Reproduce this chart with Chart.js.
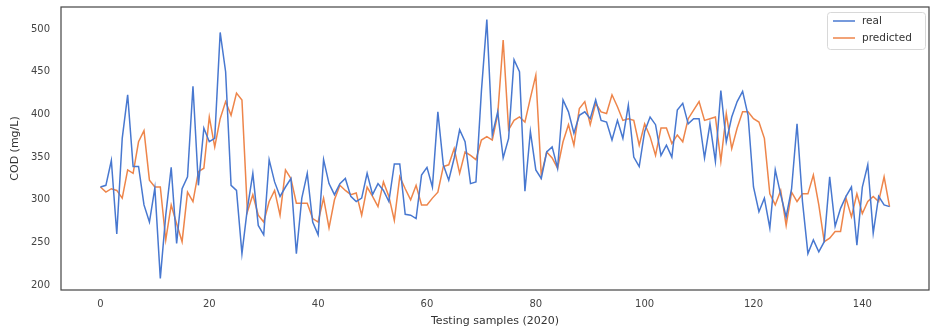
<!DOCTYPE html>
<html>
<head>
<meta charset="utf-8">
<script src="https://cdn.jsdelivr.net/npm/chart.js@4.4.1/dist/chart.umd.min.js"></script>
<style>
  body { margin: 0; background: #fff; }
  canvas { display: block; }
</style>
</head>
<body>
<canvas id="codChart" width="931" height="332"></canvas>
<script>
// COD values for the 2020 test set, one per sample
const real = [315, 317, 346, 260, 372, 423, 339, 339, 294, 274,
  314, 208, 282, 338, 249, 313, 327, 433, 317, 384,
  368, 372, 496, 450, 317, 311, 237, 290, 331, 270,
  259, 347, 321, 304, 315, 325, 237, 302, 331, 274,
  259, 347, 319, 306, 319, 325, 304, 298, 302, 331,
  306, 319, 311, 298, 342, 342, 283, 282, 278, 329,
  338, 315, 403, 341, 323, 349, 382, 368, 319, 321,
  427, 511, 376, 403, 349, 372, 464, 450, 310, 380,
  335, 325, 356, 362, 337, 417, 403, 378, 399, 403,
  395, 417, 393, 391, 370, 393, 372, 411, 350, 339,
  380, 397, 388, 352, 364, 350, 405, 413, 389, 395,
  395, 349, 389, 345, 428, 368, 397, 415, 427, 399,
  315, 286, 302, 267, 335, 306, 280, 313, 389, 298,
  237, 253, 239, 251, 327, 269, 290, 304, 315, 247,
  315, 341, 261, 304, 294, 292];

const predicted = [315, 309, 313, 311, 302, 335, 331, 368, 381, 323,
  315, 315, 253, 294, 272, 251, 309, 298, 333, 337,
  397, 362, 395, 415, 399, 425, 417, 286, 306, 282,
  274, 298, 311, 282, 335, 325, 296, 296, 296, 278,
  274, 302, 267, 300, 317, 311, 306, 308, 282, 315,
  304, 292, 321, 304, 276, 327, 313, 300, 317, 294,
  294, 302, 309, 339, 341, 360, 331, 356, 352, 347,
  370, 374, 370, 400, 487, 382, 393, 397, 391, 419,
  446, 329, 356, 349, 337, 368, 388, 364, 407, 415,
  388, 413, 403, 401, 423, 409, 393, 395, 393, 364,
  389, 374, 352, 384, 384, 366, 376, 368, 395, 405,
  415, 393, 395, 397, 345, 401, 360, 384, 403, 403,
  395, 391, 372, 307, 294, 311, 270, 309, 298, 307,
  307, 329, 294, 251, 255, 263, 263, 302, 280, 307,
  284, 298, 304, 298, 327, 292];

const xTicks = [0, 20, 40, 60, 80, 100, 120, 140];
const yTicks = [200, 250, 300, 350, 400, 450, 500];

const BLUE = '#4878d0';
const ORANGE = '#ee854a';
const TICK_FONT = { family: 'DejaVu Sans', size: 10 };

function toPoints(values) {
  return values.map((v, i) => ({ x: i, y: v }));
}

// frame around the plot area plus the legend box in the upper right
const frameAndLegend = {
  id: 'frameAndLegend',
  afterDatasetsDraw(chart) {
    const ctx = chart.ctx;
    const a = chart.chartArea;
    ctx.save();
    ctx.strokeStyle = '#444';
    ctx.lineWidth = 1.2;
    ctx.strokeRect(a.left, a.top, a.right - a.left, a.bottom - a.top);

    const bx = 827, by = 12, bw = 98, bh = 37;
    ctx.fillStyle = 'rgba(255,255,255,0.85)';
    ctx.strokeStyle = '#d8d8d8';
    ctx.lineWidth = 1;
    ctx.beginPath();
    ctx.roundRect(bx + 0.5, by + 0.5, bw, bh, 3);
    ctx.fill();
    ctx.stroke();

    ctx.font = '10.5px "DejaVu Sans"';
    ctx.textBaseline = 'middle';
    chart.data.datasets.forEach((ds, k) => {
      const y = by + 9 + k * 17;
      ctx.strokeStyle = ds.borderColor;
      ctx.lineWidth = 1.5;
      ctx.beginPath();
      ctx.moveTo(bx + 6, y);
      ctx.lineTo(bx + 28, y);
      ctx.stroke();
      ctx.fillStyle = '#333';
      ctx.fillText(ds.label, bx + 35, y);
    });
    ctx.restore();
  }
};

const codChart = new Chart(document.getElementById('codChart'), {
  type: 'line',
  data: {
    datasets: [
      { label: 'real', data: toPoints(real), borderColor: BLUE, borderWidth: 1.5 },
      { label: 'predicted', data: toPoints(predicted), borderColor: ORANGE, borderWidth: 1.5 }
    ]
  },
  options: {
    responsive: false,
    animation: false,
    devicePixelRatio: 1,
    layout: { padding: { top: 7, right: 2, left: 0, bottom: 0 } },
    elements: { point: { radius: 0 }, line: { tension: 0 } },
    plugins: { legend: { display: false }, tooltip: { enabled: false } },
    scales: {
      x: {
        type: 'linear',
        min: -7.25,
        max: 152.25,
        grid: { display: false, drawTicks: false },
        border: { display: false },
        afterBuildTicks: (scale) => { scale.ticks = xTicks.map(v => ({ value: v })); },
        afterFit: (scale) => {
          scale.height = 42;
          scale.paddingLeft = 0;
          scale.paddingRight = 0;
        },
        ticks: { color: '#444', font: TICK_FONT, padding: 8, maxRotation: 0 },
        title: {
          display: true,
          text: 'Testing samples (2020)',
          color: '#333',
          font: { family: 'DejaVu Sans', size: 11 },
          padding: { top: 0, bottom: 4 }
        }
      },
      y: {
        min: 194.4,
        max: 525.8,
        grid: { display: false, drawTicks: false },
        border: { display: false },
        afterBuildTicks: (scale) => { scale.ticks = yTicks.map(v => ({ value: v })); },
        afterFit: (scale) => {
          scale.width = 61;
          scale.paddingTop = 0;
          scale.paddingBottom = 0;
        },
        ticks: { color: '#444', font: TICK_FONT, padding: 11 },
        title: {
          display: true,
          text: 'COD (mg/L)',
          color: '#333',
          font: { family: 'DejaVu Sans', size: 11 },
          padding: { top: 9, bottom: 0 }
        }
      }
    }
  },
  plugins: [frameAndLegend]
});
</script>
</body>
</html>
